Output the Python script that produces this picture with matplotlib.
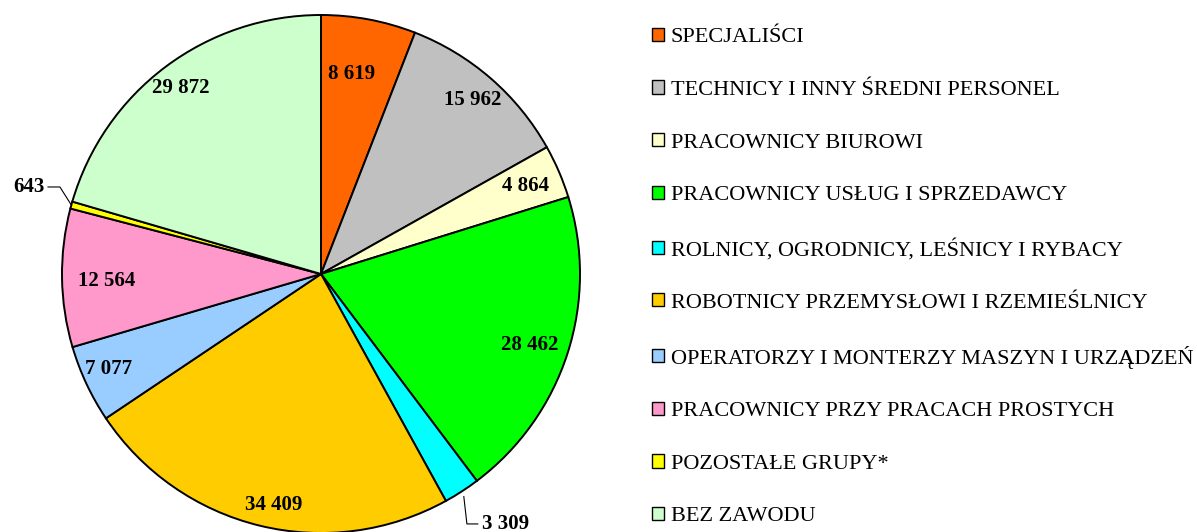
import matplotlib.pyplot as plt
import numpy as np
from matplotlib.patches import Patch

plt.rcParams["font.family"] = ["Liberation Serif", "DejaVu Serif"]

categories = [
    "SPECJALIŚCI",
    "TECHNICY I INNY ŚREDNI PERSONEL",
    "PRACOWNICY BIUROWI",
    "PRACOWNICY USŁUG I SPRZEDAWCY",
    "ROLNICY, OGRODNICY, LEŚNICY I RYBACY",
    "ROBOTNICY PRZEMYSŁOWI I RZEMIEŚLNICY",
    "OPERATORZY I MONTERZY MASZYN I URZĄDZEŃ",
    "PRACOWNICY PRZY PRACACH PROSTYCH",
    "POZOSTAŁE GRUPY*",
    "BEZ ZAWODU",
]
values = [8619, 15962, 4864, 28462, 3309, 34409, 7077, 12564, 643, 29872]
value_labels = ["8 619", "15 962", "4 864", "28 462", "3 309",
                "34 409", "7 077", "12 564", "643", "29 872"]
colors = ["#FF6600", "#C0C0C0", "#FFFFCC", "#00FF00", "#00FFFF",
          "#FFCC00", "#99CCFF", "#FF99CC", "#FFFF00", "#CCFFCC"]

W, H = 1197, 532
fig = plt.figure(figsize=(W / 100, H / 100), dpi=100)
cx, cy, r = 321, 274, 259
ax = fig.add_axes([(cx - r) / W, (H - cy - r) / H, 2 * r / W, 2 * r / H])

wedges, _ = ax.pie(values, colors=colors, startangle=90, counterclock=False,
                   wedgeprops=dict(edgecolor="black", linewidth=1.4))
ax.set_xlim(-1, 1)
ax.set_ylim(-1, 1)
ax.set_aspect("equal")
ax.axis("off")

# label distance from centre (fraction of radius) and angle nudge (deg)
label_r = [0.78, 0.89, 0.86, 0.85, None, 0.91, 0.90, 0.83, None, 0.90]
label_da = [2.0, 0, 0, -1, 0, 2, -1, 1, 0, 0]
for w, lab, lr, da in zip(wedges, value_labels, label_r, label_da):
    if lr is None:
        continue
    a = np.deg2rad((w.theta1 + w.theta2) / 2 + da)
    ax.text(lr * np.cos(a), lr * np.sin(a), lab, ha="center", va="center",
            fontsize=15, fontweight="bold")

# small slices with leader lines
w = wedges[8]
a = np.deg2rad((w.theta1 + w.theta2) / 2)
ex, ey = np.cos(a), np.sin(a)
ax.plot([ex, -1.008, -1.054], [ey, 0.336, 0.336], color="black", lw=0.8, clip_on=False)
ax.text(-1.066, 0.336, value_labels[8], ha="right", va="center",
        fontsize=15, fontweight="bold")

w = wedges[4]
a = np.deg2rad((w.theta1 + w.theta2) / 2)
ex, ey = np.cos(a), np.sin(a)
ax.plot([ex + 0.008, ex + 0.02, ex + 0.062], [ey - 0.02, -0.965, -0.965],
        color="black", lw=0.8, clip_on=False)
ax.text(ex + 0.08, -0.965, value_labels[4], ha="left", va="center",
        fontsize=15, fontweight="bold")

handles = [Patch(facecolor=c, edgecolor="black", linewidth=1.0) for c in colors]
fig.legend(handles, categories, loc="upper left", bbox_to_anchor=(643 / W, 1 - 19 / H),
           frameon=False, fontsize=16, handlelength=0.55, handleheight=0.55,
           handletextpad=0.3, labelspacing=1.485, borderaxespad=0)

fig.savefig("out.png", dpi=100)
